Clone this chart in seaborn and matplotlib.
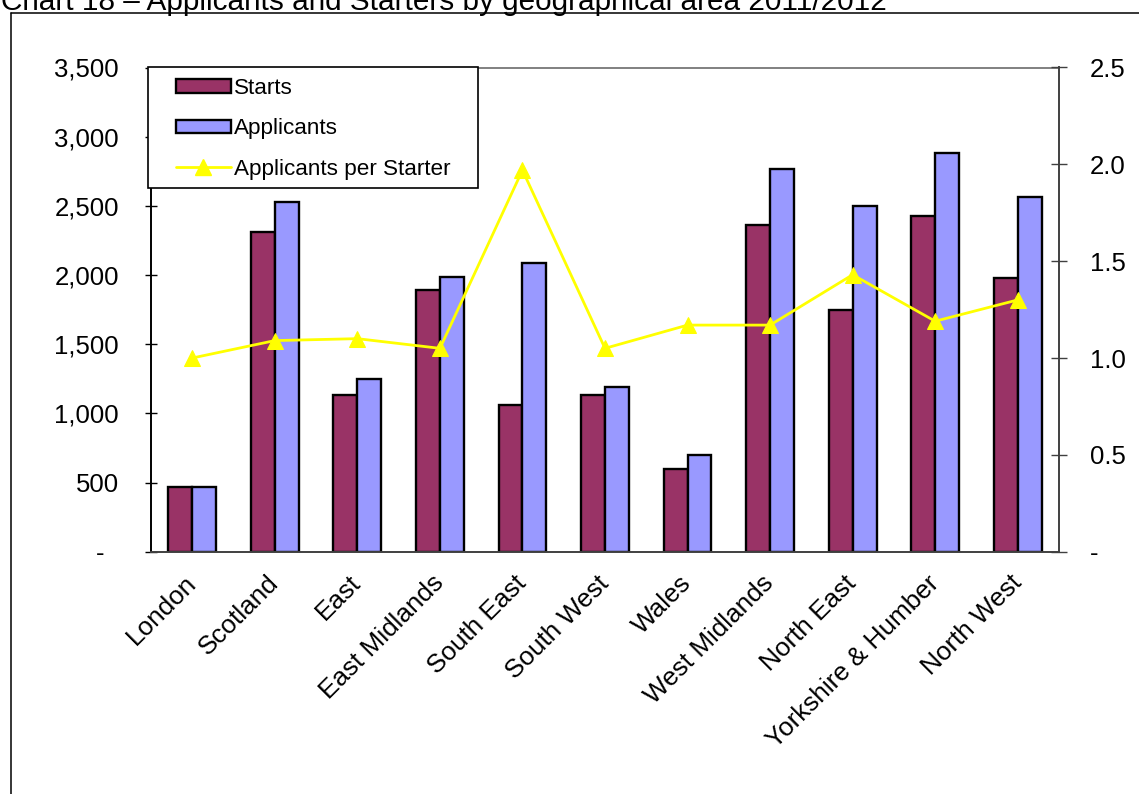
import numpy as np
import pandas as pd
import matplotlib
matplotlib.use("Agg")
import matplotlib.pyplot as plt
import seaborn as sns
from matplotlib.patches import Patch, Rectangle
from matplotlib.lines import Line2D
from matplotlib.ticker import FuncFormatter

# Data
regions = ["London", "Scotland", "East", "East Midlands", "South East",
           "South West", "Wales", "West Midlands", "North East",
           "Yorkshire & Humber", "North West"]
starts = [470, 2310, 1135, 1890, 1060, 1135, 598, 2360, 1745, 2428, 1978]
applicants = [470, 2528, 1246, 1986, 2088, 1190, 700, 2768, 2501, 2882, 2566]
per_starter = [1.00, 1.09, 1.10, 1.05, 1.97, 1.05, 1.17, 1.17, 1.43, 1.19, 1.30]
left_ticks = [0, 500, 1000, 1500, 2000, 2500, 3000, 3500]
right_ticks = [0.0, 0.5, 1.0, 1.5, 2.0, 2.5]
series_names = ["Starts", "Applicants"]
line_name = "Applicants per Starter"
title = "Chart 18 \u2013 Applicants and Starters by geographical area 2011/2012"

C_STARTS = "#993366"
C_APPL = "#9999FF"
C_LINE = "#FFFF00"

sns.set_theme(style="white")
plt.rcParams["font.family"] = ["Liberation Sans", "DejaVu Sans"]
plt.rcParams["text.color"] = "black"
plt.rcParams["xtick.color"] = "black"
plt.rcParams["ytick.color"] = "black"
plt.rcParams["xtick.labelcolor"] = "black"
plt.rcParams["ytick.labelcolor"] = "black"

W, H = 1139, 794
fig = plt.figure(figsize=(W / 100, H / 100), dpi=100)
fig.patch.set_facecolor("white")

L, R, T, B = 151, 1059, 67.5, 551.7
ax = fig.add_axes([L / W, (H - B) / H, (R - L) / W, (B - T) / H])

df = pd.DataFrame({
    "Region": regions * 2,
    "Series": [series_names[0]] * len(regions) + [series_names[1]] * len(regions),
    "Value": starts + applicants,
})
sns.barplot(data=df, x="Region", y="Value", hue="Series", order=regions,
            hue_order=series_names, palette=[C_STARTS, C_APPL], width=0.58,
            saturation=1, edgecolor="black", linewidth=1.7, errorbar=None,
            legend=False, ax=ax)

ax.set_xlim(-0.5, len(regions) - 0.5)
ax.set_ylim(0, 3500)
ax.set_yticks(left_ticks)
ax.yaxis.set_major_formatter(FuncFormatter(lambda v, p: "-  " if v == 0 else f"{v:,.0f}"))
ax.set_xlabel("")
ax.set_ylabel("")
ax.set_xticks(range(len(regions)))
ax.set_xticklabels(regions, rotation=45, ha="right", va="center",
                   rotation_mode="anchor", fontsize=18.8, color="black")
ax.set_xticks(np.arange(-0.5, len(regions), 1), minor=True)
ax.tick_params(axis="x", which="major", length=0, pad=20)
ax.tick_params(axis="x", which="minor", direction="inout", length=12,
               width=1, color="#404040")
ax.tick_params(axis="y", which="major", direction="inout", length=8, width=1,
               color="black", labelcolor="black", labelsize=18.5, pad=19, left=True)
for s, c in [("left", "black"), ("bottom", "#404040"), ("top", "#808080")]:
    ax.spines[s].set_color(c)
    ax.spines[s].set_linewidth(1.4)
ax.spines["right"].set_visible(False)

# Ratio line on the secondary axis
ax2 = ax.twinx()
sns.lineplot(x=np.arange(len(regions)), y=per_starter, ax=ax2, color=C_LINE,
             linewidth=2, marker="^", markersize=12, markeredgecolor=C_LINE,
             legend=False)
ax2.set_ylim(0, 2.5)
ax2.set_xlim(-0.5, len(regions) - 0.5)
ax2.set_yticks(right_ticks)
ax2.yaxis.set_major_formatter(FuncFormatter(lambda v, p: "-" if v == 0 else f"{v:.1f}"))
ax2.set_ylabel("")
ax2.tick_params(axis="y", which="major", direction="inout", length=12, width=1,
                color="#404040", labelcolor="black", labelsize=18.5, pad=16, right=True)
for s in ["left", "top", "bottom"]:
    ax2.spines[s].set_visible(False)
ax2.spines["right"].set_color("#404040")
ax2.spines["right"].set_linewidth(1.4)

# Legend box
frame = Rectangle((148 / W, (H - 188) / H), (478 - 148) / W, (188 - 67.5) / H,
                  transform=fig.transFigure, facecolor="white",
                  edgecolor="black", linewidth=1.2, zorder=5, clip_on=False)
ax2.add_artist(frame)
handles = [
    Patch(facecolor=C_STARTS, edgecolor="black", linewidth=1.7, label=series_names[0]),
    Patch(facecolor=C_APPL, edgecolor="black", linewidth=1.7, label=series_names[1]),
    Line2D([], [], color=C_LINE, linewidth=2, marker="^", markersize=12,
           markeredgecolor=C_LINE, label=line_name),
]
leg = ax2.legend(handles=handles, loc="upper left",
                 bbox_to_anchor=(176 / W, (H - 78) / H),
                 bbox_transform=fig.transFigure, frameon=False, fontsize=16.2,
                 handlelength=2.43, handleheight=0.55, handletextpad=0.15,
                 labelspacing=0.86, borderpad=0, borderaxespad=0, numpoints=1,
                 labelcolor="black")
leg.set_zorder(6)

# Outer frame and heading
fig.add_artist(Line2D([11 / W, 11 / W], [0, (H - 13) / H],
                      transform=fig.transFigure, color="black", linewidth=1.1))
fig.add_artist(Line2D([11 / W, 1], [(H - 13) / H, (H - 13) / H],
                      transform=fig.transFigure, color="black", linewidth=1.1))
fig.text(1 / W, (H - 10) / H, title, fontsize=21.4, ha="left", va="baseline",
         color="black")

fig.savefig("out.png", dpi=100)
